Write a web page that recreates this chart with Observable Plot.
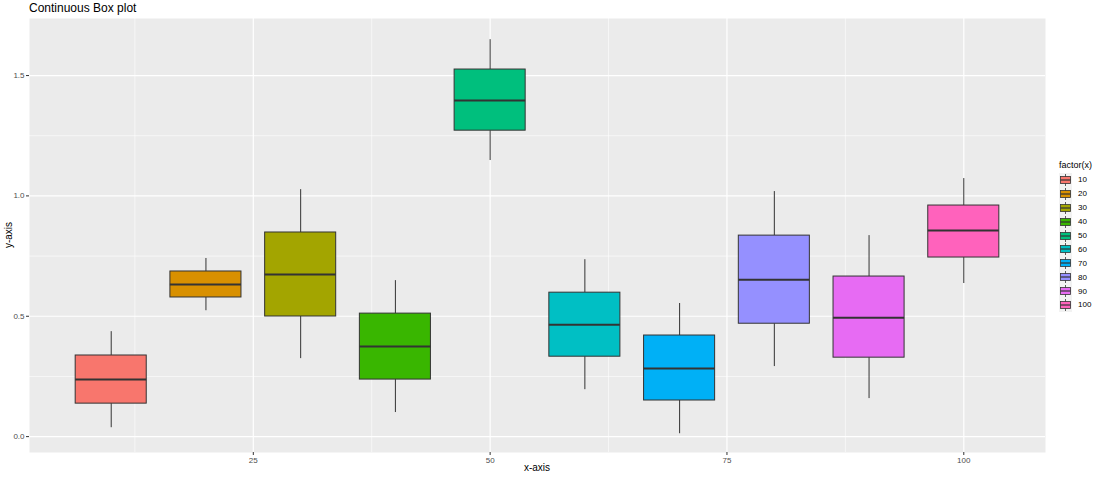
<!DOCTYPE html>
<html>
<head>
<meta charset="utf-8">
<script src="https://cdn.jsdelivr.net/npm/d3@7"></script>
<script src="https://cdn.jsdelivr.net/npm/@observablehq/plot@0.6"></script>
<style>
  body { margin: 0; background: #fff; font-family: "Liberation Sans", Arial, sans-serif; }
  #wrap { position: relative; width: 1100px; height: 477px; overflow: hidden; }
  #chart { position: absolute; left: 0; top: 0; }
  .title { position: absolute; left: 29px; top: 1px; font-size: 12px; color: #000; }
  .xlab { position: absolute; left: 0; width: 1074px; top: 462px; text-align: center; font-size: 10px; color: #000; }
  .ylab { position: absolute; left: 8px; top: 235px; font-size: 10px; color: #000; transform: translate(-50%, -50%) rotate(-90deg); transform-origin: center; white-space: nowrap; }
  #legend { position: absolute; left: 1059px; top: 160px; font-size: 8px; color: #000; }
  #legend .lt { font-size: 9px; margin-bottom: 3px; }
  #legend .item { display: flex; align-items: center; height: 13.9px; }
  #legend .item svg { margin-right: 6px; }
</style>
</head>
<body>
<div id="wrap">
  <div id="chart"></div>
  <div class="title">Continuous Box plot</div>
  <div class="xlab">x-axis</div>
  <div class="ylab">y-axis</div>
  <div id="legend"></div>
</div>
<script>
const categories = [10, 20, 30, 40, 50, 60, 70, 80, 90, 100];
const whiskerLow  = [0.037, 0.523, 0.324, 0.100, 1.147, 0.195, 0.012, 0.291, 0.158, 0.636];
const q1          = [0.137, 0.578, 0.499, 0.237, 1.271, 0.332, 0.150, 0.469, 0.328, 0.744];
const medians     = [0.237, 0.632, 0.673, 0.374, 1.396, 0.465, 0.283, 0.652, 0.494, 0.856];
const q3          = [0.337, 0.686, 0.848, 0.511, 1.525, 0.598, 0.420, 0.835, 0.665, 0.960];
const whiskerHigh = [0.436, 0.740, 1.026, 0.648, 1.649, 0.735, 0.553, 1.018, 0.835, 1.072];
const colors = ["#F8766D", "#D89000", "#A3A500", "#39B600", "#00BF7D", "#00BFC4", "#00B0F6", "#9590FF", "#E76BF3", "#FF62BC"];
const xTicks = [25, 50, 75, 100];
const xMinor = [12.5, 37.5, 62.5, 87.5];
const yTicks = [0, 0.5, 1.0, 1.5];
const yMinor = [0.25, 0.75, 1.25];
const boxWidth = 7.5;

const data = categories.map((x, i) => ({
  x, key: String(x), lo: whiskerLow[i], q1: q1[i], med: medians[i], q3: q3[i], hi: whiskerHigh[i]
}));

const chart = Plot.plot({
  width: 1100,
  height: 477,
  marginTop: 18,
  marginBottom: 25,
  marginLeft: 29,
  marginRight: 55,
  style: { fontFamily: "Liberation Sans, Arial, sans-serif", background: "transparent" },
  x: { domain: [1.375, 108.625], label: null },
  y: { domain: [-0.066, 1.737], label: null },
  color: { domain: categories.map(String), range: colors },
  marks: [
    Plot.frame({ fill: "#EBEBEB", stroke: null }),
    Plot.ruleX(xMinor, { stroke: "#fff", strokeWidth: 0.6 }),
    Plot.ruleY(yMinor, { stroke: "#fff", strokeWidth: 0.6 }),
    Plot.ruleX(xTicks, { stroke: "#fff", strokeWidth: 1.2 }),
    Plot.ruleY(yTicks, { stroke: "#fff", strokeWidth: 1.2 }),
    Plot.ruleX(data, { x: "x", y1: "lo", y2: "q1", stroke: "#333", strokeWidth: 1 }),
    Plot.ruleX(data, { x: "x", y1: "q3", y2: "hi", stroke: "#333", strokeWidth: 1 }),
    Plot.rect(data, {
      x1: d => d.x - boxWidth / 2, x2: d => d.x + boxWidth / 2,
      y1: "q1", y2: "q3", fill: "key", stroke: "#333", strokeWidth: 1
    }),
    Plot.ruleY(data, {
      y: "med", x1: d => d.x - boxWidth / 2, x2: d => d.x + boxWidth / 2,
      stroke: "#333", strokeWidth: 2
    }),
    Plot.axisX({ ticks: xTicks, tickSize: 3, tickPadding: 2, fontSize: 8, color: "#4D4D4D", stroke: "#333", tickFormat: d => String(d) }),
    Plot.axisY({ ticks: yTicks, tickSize: 3, tickPadding: 2, fontSize: 8, color: "#4D4D4D", stroke: "#333", tickFormat: d3.format(".1f") })
  ]
});
document.getElementById("chart").appendChild(chart);

// legend
const legend = document.getElementById("legend");
const lt = document.createElement("div");
lt.className = "lt";
lt.textContent = "factor(x)";
legend.appendChild(lt);
const ns = "http://www.w3.org/2000/svg";
categories.forEach((c, i) => {
  const item = document.createElement("div");
  item.className = "item";
  const s = document.createElementNS(ns, "svg");
  s.setAttribute("width", 13); s.setAttribute("height", 14);
  s.innerHTML =
    `<rect x="0" y="0" width="13" height="14" fill="#F2F2F2"/>` +
    `<line x1="6.5" x2="6.5" y1="1" y2="13" stroke="#333" stroke-width="0.8"/>` +
    `<rect x="1.5" y="3.5" width="10" height="7" fill="${colors[i]}" stroke="#333" stroke-width="0.8"/>` +
    `<line x1="1.5" x2="11.5" y1="7" y2="7" stroke="#333" stroke-width="1.2"/>`;
  item.appendChild(s);
  const t = document.createElement("span");
  t.textContent = String(c);
  item.appendChild(t);
  legend.appendChild(item);
});
</script>
</body>
</html>
